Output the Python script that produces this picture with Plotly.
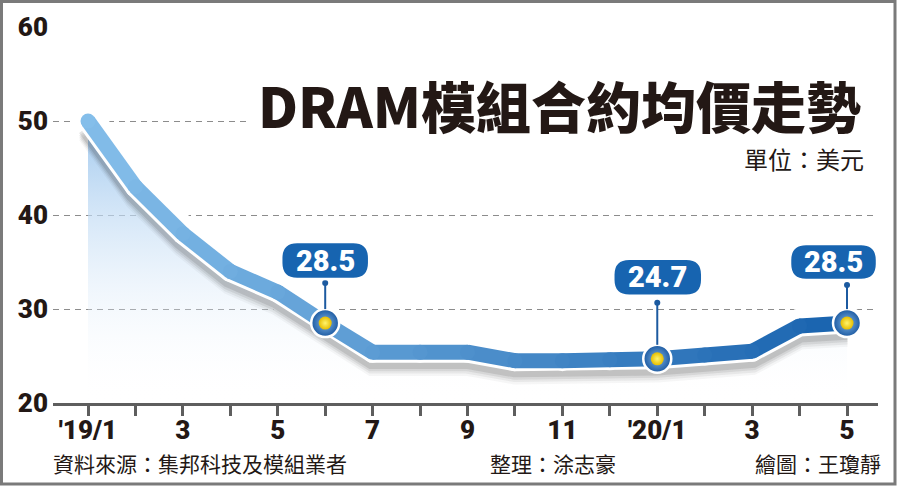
import plotly.graph_objects as go

# ---------------- data ----------------
months = list(range(1, 18))
prices = [50.0, 43.0, 38.0, 34.0, 31.8, 28.5, 25.4, 25.4, 25.4, 24.5,
          24.5, 24.6, 24.7, 25.1, 25.5, 28.2, 28.5]
tick_text = ["'19/1", "", "3", "", "5", "", "7", "", "9", "", "11", "",
             "'20/1", "", "3", "", "5"]
y_ticks = [20, 30, 40, 50, 60]
callout_months = [6, 13, 17]
callout_labels = ["28.5", "24.7", "28.5"]

title_text = "DRAM模組合約均價走勢"
unit_text = "單位：美元"
source_text = "資料來源：集邦科技及模組業者"
editor_text = "整理：涂志豪"
artist_text = "繪圖：王瓊靜"

# ---------------- styling helpers ----------------
NUM_FONT = "Roboto, Liberation Sans Narrow, sans-serif"
CJK_FONT = "Noto Sans CJK TC, Noto Sans CJK SC, sans-serif"
L, R, T, B = 53, 22, 27, 83
W, H = 900, 486
PW, PH = W - L - R, H - T - B


def px_to_paper_x(px):
    return (px - L) / PW


def px_to_paper_y(py):
    return (H - B - py) / PH


c0 = (132, 190, 234)
c1 = (24, 98, 174)


def col_at(t):
    r = [round(a + (b - a) * t) for a, b in zip(c0, c1)]
    return f"rgb({r[0]},{r[1]},{r[2]})"


n = len(months)
fig = go.Figure()

# white halo hiding gridlines around the line
fig.add_trace(go.Scatter(
    x=months, y=prices, mode="lines+markers",
    line=dict(width=34, color="white"), marker=dict(size=34, color="white"),
    hoverinfo="skip", showlegend=False))

# gradient area under line
fig.add_trace(go.Scatter(
    x=months, y=prices, mode="lines", fill="tozeroy",
    line=dict(width=0, color="rgba(0,0,0,0)"),
    fillgradient=dict(type="vertical", start=20, stop=50,
                      colorscale=[[0, "rgba(255,255,255,0)"],
                                  [1, "rgba(160,200,238,1)"]]),
    hoverinfo="skip", showlegend=False))

# soft (layered) shadow
for off, w, a in [(1.35, 22, 0.045), (1.1, 22, 0.065), (0.85, 22, 0.09),
                  (0.6, 22, 0.12)]:
    fig.add_trace(go.Scatter(
        x=months, y=[p - off for p in prices], mode="lines",
        line=dict(width=w, color=f"rgba(40,40,40,{a})"),
        hoverinfo="skip", showlegend=False))

# white outline
fig.add_trace(go.Scatter(
    x=months, y=prices, mode="lines+markers",
    line=dict(width=21, color="white"),
    marker=dict(size=21, color="white"),
    hoverinfo="skip", showlegend=False))

# gradient-coloured band, segment by segment
for i in range(n - 1):
    fig.add_trace(go.Scatter(
        x=months[i:i + 2], y=prices[i:i + 2], mode="lines",
        line=dict(width=15, color=col_at((i + 0.5) / (n - 1))),
        hoverinfo="skip", showlegend=False))
fig.add_trace(go.Scatter(
    x=months, y=prices, mode="markers",
    marker=dict(size=15, color=[col_at(i / (n - 1)) for i in range(n)]),
    hoverinfo="skip", showlegend=False))

# callout markers
cx = callout_months
cy = [prices[months.index(m)] for m in cx]
fig.add_trace(go.Scatter(
    x=cx, y=cy, mode="markers",
    marker=dict(size=28, color="#1a58a0", line=dict(width=2.5, color="white"),
                gradient=dict(type="radial", color="#7fb4e6")),
    hoverinfo="skip", showlegend=False))
fig.add_trace(go.Scatter(
    x=cx, y=cy, mode="markers",
    marker=dict(size=13, color="#e6bd00",
                gradient=dict(type="radial", color="#fff46e")),
    hoverinfo="skip", showlegend=False))


def pill(l, r, b, t, rad):
    return (f"M {l+rad},{b} L {r-rad},{b} Q {r},{b} {r},{b+rad} "
            f"L {r},{t-rad} Q {r},{t} {r-rad},{t} L {l+rad},{t} "
            f"Q {l},{t} {l},{t-rad} L {l},{b+rad} Q {l},{b} {l+rad},{b} Z")


# callout geometry (pixel offsets relative to the data point)
boxes = [(-44, 44, 44, 81, 40), (-44, 45, 63, 100, 56), (-57, 30, 43, 79, 38)]
shapes = []
annotations = []

# white panel behind the title (hides the 50 gridline there)
shapes.append(dict(type="rect", xref="paper", yref="paper",
                   x0=px_to_paper_x(247), x1=1.0,
                   y0=px_to_paper_y(168), y1=px_to_paper_y(74),
                   fillcolor="white", line=dict(width=0), layer="above"))

for m, v, lab, (bl, br, bb, bt, dot) in zip(cx, cy, callout_labels, boxes):
    shapes.append(dict(type="line", xref="x", yref="y", xsizemode="pixel",
                       ysizemode="pixel", xanchor=m, yanchor=v,
                       x0=0, x1=0, y0=14, y1=dot,
                       line=dict(color="#1c5aa0", width=2), layer="above"))
    shapes.append(dict(type="circle", xref="x", yref="y", xsizemode="pixel",
                       ysizemode="pixel", xanchor=m, yanchor=v,
                       x0=-3, x1=3, y0=dot - 3, y1=dot + 3,
                       fillcolor="#1c5aa0", line=dict(width=0), layer="above"))
    shapes.append(dict(type="path", xref="x", yref="y", xsizemode="pixel",
                       ysizemode="pixel", xanchor=m, yanchor=v,
                       path=pill(bl, br, bb, bt, 16),
                       fillcolor="#1764b0", line=dict(color="white", width=2.5),
                       layer="above"))
    annotations.append(dict(x=m, y=v, xref="x", yref="y", text=lab,
                            showarrow=False, xshift=(bl + br) / 2,
                            yshift=(bb + bt) / 2,
                            font=dict(family=NUM_FONT, size=29, color="white",
                                      weight=900)))

# outer frame
shapes.append(dict(type="rect", xref="paper", yref="paper",
                   x0=px_to_paper_x(1.5), x1=px_to_paper_x(895),
                   y0=px_to_paper_y(484), y1=px_to_paper_y(1.5),
                   line=dict(color="#7a7a7a", width=3), layer="below"))

# title and texts
annotations += [
    dict(x=px_to_paper_x(863), y=px_to_paper_y(104), xref="paper", yref="paper",
         xanchor="right", yanchor="middle", text=title_text, showarrow=False,
         font=dict(family=CJK_FONT, size=55, color="#231815", weight=900)),
    dict(x=px_to_paper_x(866), y=px_to_paper_y(158), xref="paper", yref="paper",
         xanchor="right", yanchor="middle", text=unit_text, showarrow=False,
         font=dict(family=CJK_FONT, size=24, color="#231815")),
    dict(x=px_to_paper_x(51), y=px_to_paper_y(463), xref="paper", yref="paper",
         xanchor="left", yanchor="middle", text=source_text, showarrow=False,
         font=dict(family=CJK_FONT, size=21, color="#231815")),
    dict(x=px_to_paper_x(488), y=px_to_paper_y(463), xref="paper", yref="paper",
         xanchor="left", yanchor="middle", text=editor_text, showarrow=False,
         font=dict(family=CJK_FONT, size=21, color="#231815")),
    dict(x=px_to_paper_x(883), y=px_to_paper_y(463), xref="paper", yref="paper",
         xanchor="right", yanchor="middle", text=artist_text, showarrow=False,
         font=dict(family=CJK_FONT, size=21, color="#231815")),
]

fig.update_layout(
    width=W, height=H,
    margin=dict(l=L, r=R, t=T, b=B),
    paper_bgcolor="white", plot_bgcolor="white",
    showlegend=False,
    shapes=shapes, annotations=annotations,
    xaxis=dict(range=[0.262, 17.653], tickvals=months, ticktext=tick_text,
               showgrid=False, zeroline=False, showline=True,
               linecolor="#5e5e5e", linewidth=3, ticks="outside", ticklen=10,
               tickwidth=3, tickcolor="#5e5e5e", ticklabelstandoff=-8,
               tickfont=dict(family=NUM_FONT, size=26, color="#231815",
                             weight=900)),
    yaxis=dict(range=[20, 60], tickvals=y_ticks, showgrid=True,
               gridcolor="#8c8c8c", gridwidth=1.2, griddash="6px,5px",
               zeroline=False, showline=False, ticks="",
               ticklabelstandoff=4,
               tickfont=dict(family=NUM_FONT, size=26, color="#231815",
                             weight=900)),
)

fig.write_html("out.html")
